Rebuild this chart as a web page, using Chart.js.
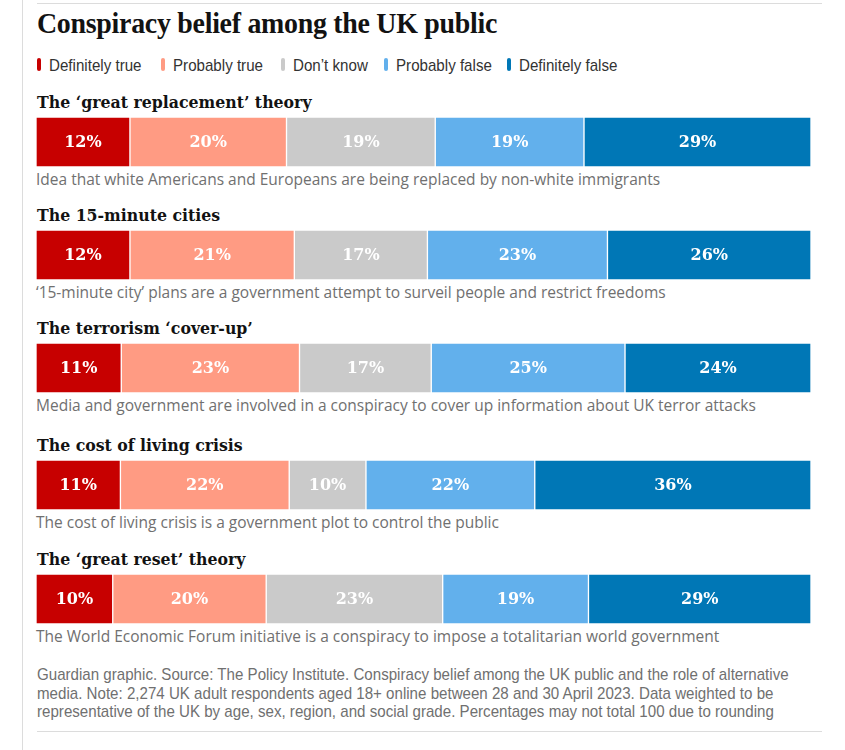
<!DOCTYPE html>
<html>
<head>
<meta charset="utf-8">
<script src="https://cdn.jsdelivr.net/npm/chart.js@4/dist/chart.umd.min.js"></script>
<style>
  html, body { margin: 0; padding: 0; background: #fff; }
  #wrap { position: relative; width: 845px; height: 750px; overflow: hidden; }
  .abs { position: absolute; white-space: nowrap; }
  .vline { position: absolute; left: 22px; top: 0; width: 1px; height: 750px; background: #dcdcdc; }
  .hline { position: absolute; left: 37px; width: 785px; height: 1px; background: #dcdcdc; }
  #title { left: 37px; top: 3px; font-family: "Liberation Serif", serif; font-weight: 700; font-size: 30px; line-height: 40px; color: #121212; letter-spacing: -0.3px; transform: scaleX(0.93); transform-origin: 0 50%; }
  .leg { font-family: "Liberation Sans", sans-serif; font-size: 17px; line-height: 20px; color: #333; transform: scaleX(0.89); transform-origin: 0 50%; }
  .legmark { position: absolute; width: 4px; height: 13px; border-radius: 2px; }
  .rowtitle { font-family: "DejaVu Serif", serif; font-stretch: condensed; font-weight: 700; font-size: 17.5px; line-height: 24px; color: #121212; }
  .desc { font-family: "Open Sans", sans-serif; font-size: 15.5px; line-height: 22px; color: #707070; }
  .foot { font-family: "Liberation Sans", sans-serif; font-size: 17px; line-height: 18.5px; color: #707070; white-space: pre; transform: scaleX(0.889); transform-origin: 0 0; }
  canvas { position: absolute; }
</style>
</head>
<body>
<div id="wrap">
  <div class="vline"></div>
  <div class="hline" style="top:3px"></div>
  <div class="hline" style="top:731px"></div>
  <div id="title" class="abs">Conspiracy belief among the UK public</div>
</div>
<script>
// ---- Data ----
const categories = [
  "The \u2018great replacement\u2019 theory",
  "The 15-minute cities",
  "The terrorism \u2018cover-up\u2019",
  "The cost of living crisis",
  "The \u2018great reset\u2019 theory"
];
const descriptions = [
  "Idea that white Americans and Europeans are being replaced by non-white immigrants",
  "\u201815-minute city\u2019 plans are a government attempt to surveil people and restrict freedoms",
  "Media and government are involved in a conspiracy to cover up information about UK terror attacks",
  "The cost of living crisis is a government plot to control the public",
  "The World Economic Forum initiative is a conspiracy to impose a totalitarian world government"
];
const seriesNames = ["Definitely true", "Probably true", "Don\u2019t know", "Probably false", "Definitely false"];
const definitelyTrue  = [12, 12, 11, 11, 10];
const probablyTrue    = [20, 21, 23, 22, 20];
const dontKnow        = [19, 17, 17, 10, 23];
const probablyFalse   = [19, 23, 25, 22, 19];
const definitelyFalse = [29, 26, 24, 36, 29];
const footnoteLines = [
  "Guardian graphic. Source: The Policy Institute. Conspiracy belief among the UK public and the role of alternative",
  "media. Note: 2,274 UK adult respondents aged 18+ online between 28 and 30 April 2023. Data weighted to be",
  "representative of the UK by age, sex, region, and social grade. Percentages may not total 100 due to rounding"
];

// ---- Styles / layout ----
const colors = ["#c70000", "#ff9b83", "#cacaca", "#62b0ec", "#0077b6"];
const seriesValues = [definitelyTrue, probablyTrue, dontKnow, probablyFalse, definitelyFalse];
const barTops = [117, 230, 343, 460, 574];
const barLeft = 36, barWidth = 775, barHeight = 50;

const wrap = document.getElementById('wrap');
function addDiv(cls, text, left, top, extra) {
  const d = document.createElement('div');
  d.className = 'abs ' + cls;
  d.textContent = text;
  d.style.left = left + 'px';
  d.style.top = top + 'px';
  if (extra) Object.assign(d.style, extra);
  wrap.appendChild(d);
  return d;
}

// Legend
const legX = [37, 161, 281, 384, 507];
seriesNames.forEach((n, i) => {
  const m = document.createElement('div');
  m.className = 'legmark';
  m.style.left = legX[i] + 'px';
  m.style.top = '58px';
  m.style.background = colors[i];
  wrap.appendChild(m);
  addDiv('leg', n, legX[i] + 12, 56);
});

// Footnote
addDiv('foot', footnoteLines.join('\n'), 37, 666);

const labelPlugin = {
  id: 'segLabels',
  afterDatasetsDraw(chart) {
    const ctx = chart.ctx;
    ctx.save();
    ctx.fillStyle = '#fff';
    ctx.font = 'bold 16px "DejaVu Serif", serif';
    ctx.textAlign = 'center';
    ctx.textBaseline = 'middle';
    chart.data.datasets.forEach((ds, di) => {
      const meta = chart.getDatasetMeta(di);
      meta.data.forEach((el, i) => {
        const cx = (el.x + el.base) / 2;
        ctx.fillText(ds.data[i] + '%', cx, el.y + 1);
      });
    });
    ctx.restore();
  }
};

categories.forEach((cat, r) => {
  const top = barTops[r];
  addDiv('rowtitle', cat, 37, top - 27);
  addDiv('desc', descriptions[r], 36, top + 51);
  const cv = document.createElement('canvas');
  cv.width = barWidth; cv.height = barHeight;
  cv.style.left = barLeft + 'px';
  cv.style.top = top + 'px';
  cv.style.width = barWidth + 'px';
  cv.style.height = barHeight + 'px';
  wrap.appendChild(cv);
  const rowVals = seriesValues.map(s => s[r]);
  const total = rowVals.reduce((a, b) => a + b, 0);
  new Chart(cv, {
    type: 'bar',
    data: {
      labels: [cat],
      datasets: seriesNames.map((n, i) => ({
        label: n,
        data: [seriesValues[i][r]],
        backgroundColor: colors[i],
        borderColor: '#ffffff',
        borderWidth: 1,
        borderSkipped: false,
        barPercentage: 1,
        categoryPercentage: 1
      }))
    },
    options: {
      indexAxis: 'y',
      responsive: false,
      maintainAspectRatio: false,
      animation: false,
      devicePixelRatio: 1,
      layout: { padding: 0 },
      plugins: { legend: { display: false }, tooltip: { enabled: false } },
      scales: {
        x: { stacked: true, min: 0, max: total, display: false },
        y: { stacked: true, display: false }
      }
    },
    plugins: [labelPlugin]
  });
});
</script>
</body>
</html>
